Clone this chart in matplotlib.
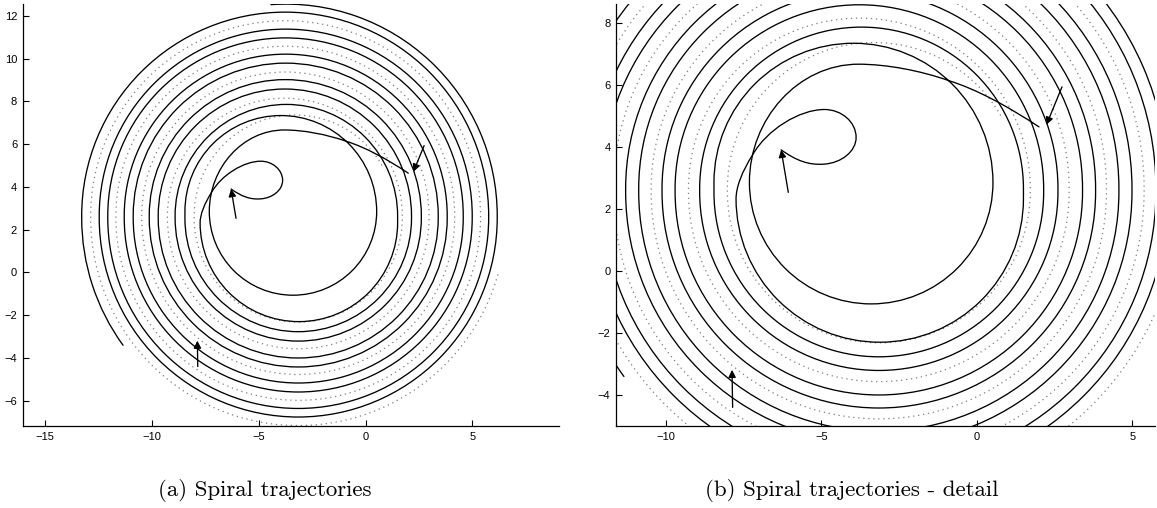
import matplotlib
matplotlib.use("Agg")
import matplotlib.pyplot as plt
from matplotlib.path import Path
from matplotlib.patches import PathPatch
from matplotlib.transforms import Affine2D

# Every turn of a spiral is a half-circle joining two crossings of a
# horizontal line; all three trajectories turn counter-clockwise.
# Crossing x-values in the order the trajectory visits them, and the
# height of the line used by each half-turn.
spiral_a_x = [-7.74, 1.50, -8.91, 2.61, -10.12, 3.82, -11.29, 4.99, -12.46, 6.16, -13.63]
spiral_a_yc = [2.32, 2.65, 2.55, 2.65, 2.55, 2.65, 2.55, 2.65, 2.55, 2.65]
spiral_a_end = 94.0          # last half-turn stops at this angle (deg)

spiral_b_x = [-7.31, 0.52, -8.45, 2.15, -9.70, 3.40, -10.87, 4.57, -12.06, 5.76, -13.28, 6.98]
spiral_b_yc = [2.85, 2.85, 2.53, 2.65, 2.55, 2.65, 2.55, 2.65, 2.55, 2.65, 2.55]
spiral_b_end = 216.0

spiral_c_x = [1.40, -8.02, 1.72, -9.27, 2.97, -10.47, 4.17, -11.68, 5.38, -12.86, 6.56]
spiral_c_yc = [2.65, 2.55, 2.65, 2.55, 2.65, 2.55, 2.65, 2.55, 2.65, 2.55]
spiral_c_start = 30.0        # first half-turn starts at this angle (deg)
spiral_c_end = 345.0

# Loop leading into spiral a (cubic Bezier: start, then control, control, end ...)
loop_x = [-6.29, -5.80, -5.40, -4.90, -4.35, -3.88, -3.88, -3.88, -4.35, -4.90,
          -5.70, -6.75, -7.20, -7.55, -7.74, -7.74]
loop_y = [3.90, 3.55, 3.40, 3.44, 3.48, 3.85, 4.30, 4.80, 5.20, 5.20,
          5.20, 4.55, 3.75, 3.20, 2.70, 2.32]

# Entry segment leading into spiral b (cubic Bezier)
entry_x = [2.00, 1.00, 0.00, -0.90, -1.80, -2.90, -3.80, -5.74, -7.31, -7.31]
entry_y = [4.64, 5.30, 5.85, 6.13, 6.45, 6.66, 6.66, 6.66, 4.90, 2.85]

# Initial-direction arrows: tails and tips
arrow_tail_x = [-6.06, 2.74, -7.85]
arrow_tail_y = [2.53, 5.93, -4.40]
arrow_tip_x = [-6.29, 2.24, -7.87]
arrow_tip_y = [3.90, 4.71, -3.19]

captions = ["(a) Spiral trajectories", "(b) Spiral trajectories - detail"]
limits = [((-16.04, 9.05), (-7.18, 12.55)), ((-11.6, 5.73), (-5.0, 8.6))]
x_ticks = [[-15, -10, -5, 0, 5], [-10, -5, 0, 5]]
y_ticks = [[-6, -4, -2, 0, 2, 4, 6, 8, 10, 12], [-4, -2, 0, 2, 4, 6, 8]]


def spiral_path(xs, ycs, lead_x=None, lead_y=None, start=None, end=None):
    verts, codes = [], []
    if lead_x is not None:
        verts += list(zip(lead_x, lead_y))
        codes += [Path.MOVETO] + [Path.CURVE4] * (len(lead_x) - 1)
    n = len(xs) - 1
    for i in range(n):
        x0, x1, yc = xs[i], xs[i + 1], ycs[i]
        upper = x0 > x1
        t1, t2 = (0.0, 180.0) if upper else (180.0, 360.0)
        if i == 0 and start is not None:
            t1 = start
        if i == n - 1 and end is not None:
            t2 = end
        arc = Path.arc(t1, t2)
        r = 0.5 * abs(x1 - x0)
        tr = Affine2D().scale(r).translate(0.5 * (x0 + x1), yc)
        v = tr.transform(arc.vertices)
        c = list(arc.codes)
        if codes:
            c[0] = Path.LINETO   # join onto the previous piece
        verts += [tuple(p) for p in v]
        codes += c
    return Path(verts, codes)


solid = dict(edgecolor="black", lw=0.95, fill=False, capstyle="round", joinstyle="round")
dotted = dict(edgecolor="#7d7d7d", lw=0.9, ls=(0, (1, 3)), fill=False)

fig = plt.figure(figsize=(11.57, 5.08), dpi=100)
positions = [[22.7 / 1157, 82 / 508, 536.3 / 1157, 422 / 508],
             [616 / 1157, 82 / 508, 539 / 1157, 422 / 508]]
caption_x = [265 / 1157, 852 / 1157]

for i in range(2):
    ax = fig.add_axes(positions[i])
    ax.add_patch(PathPatch(spiral_path(spiral_c_x, spiral_c_yc, start=spiral_c_start,
                                       end=spiral_c_end), **dotted))
    ax.add_patch(PathPatch(spiral_path(spiral_a_x, spiral_a_yc, loop_x, loop_y,
                                       end=spiral_a_end), **solid))
    ax.add_patch(PathPatch(spiral_path(spiral_b_x, spiral_b_yc, entry_x, entry_y,
                                       end=spiral_b_end), **solid))
    for tx, ty, hx, hy in zip(arrow_tail_x, arrow_tail_y, arrow_tip_x, arrow_tip_y):
        ax.annotate("", xy=(hx, hy), xytext=(tx, ty),
                    arrowprops=dict(arrowstyle="-|>", color="black", lw=0.95,
                                    mutation_scale=11, shrinkA=0, shrinkB=0))
    ax.set_xlim(*limits[i][0])
    ax.set_ylim(*limits[i][1])
    ax.set_xticks(x_ticks[i])
    ax.set_yticks(y_ticks[i])
    for s in ("top", "right"):
        ax.spines[s].set_visible(False)
    for s in ("left", "bottom"):
        ax.spines[s].set_linewidth(0.9)
    ax.tick_params(direction="in", length=4, width=0.8, labelsize=8, pad=4)
    for lab in ax.get_xticklabels() + ax.get_yticklabels():
        lab.set_family("Liberation Sans")
    fig.text(caption_x[i], 1 - 490 / 508, captions[i], family="cmr10",
             fontsize=16.5, ha="center", va="center")

fig.savefig("out.png", dpi=100)
